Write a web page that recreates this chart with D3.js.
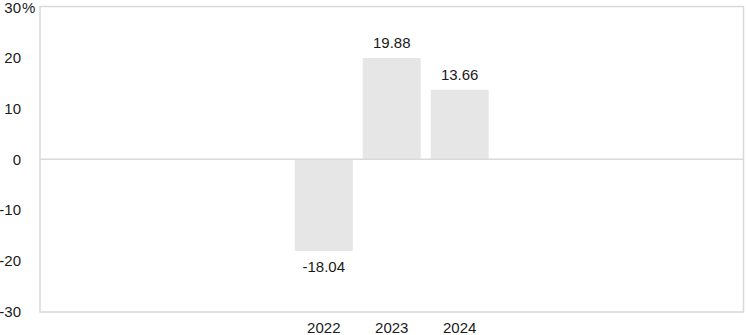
<!DOCTYPE html>
<html>
<head>
<meta charset="utf-8">
<script src="https://cdnjs.cloudflare.com/ajax/libs/d3/7.8.5/d3.min.js"></script>
<style>
	body { margin: 0; background: #fff; }
	svg text { font-family: "Liberation Sans", Arial, sans-serif; font-size: 15px; fill: #1a1a1a; }
</style>
</head>
<body>
<svg width="746" height="335"></svg>
<script>
var years = ["2022", "2023", "2024"];
var returns = [-18.04, 19.88, 13.66];
var yTicks = [-30, -20, -10, 0, 10, 20, 30];

// plot box (note: "top" is taken by window.top)
var plotLeft = 40, plotRight = 743.5, plotTop = 6.5, plotBottom = 312;

var svg = d3.select("svg");

var x = d3.scaleBand()
	.domain(years)
	.range([plotLeft, plotRight])
	.paddingInner(0.147)
	.paddingOuter(3.75);

var y = d3.scaleLinear()
	.domain([-30, 30])
	.range([plotBottom, plotTop]);

// frame
svg.append("rect")
	.attr("x", plotLeft)
	.attr("y", plotTop)
	.attr("width", plotRight - plotLeft)
	.attr("height", plotBottom - plotTop)
	.attr("fill", "none")
	.attr("stroke", "#d9d9d9")
	.attr("stroke-width", 1.5);

// bars
svg.selectAll(".bar")
	.data(years)
	.enter()
	.append("rect")
	.attr("class", "bar")
	.attr("x", function (d) { return x(d); })
	.attr("width", x.bandwidth())
	.attr("y", function (d, i) { return y(Math.max(0, returns[i])); })
	.attr("height", function (d, i) { return Math.abs(y(returns[i]) - y(0)); })
	.attr("fill", "#e6e6e6");

// zero line
svg.append("line")
	.attr("x1", plotLeft)
	.attr("x2", plotRight)
	.attr("y1", y(0))
	.attr("y2", y(0))
	.attr("stroke", "#d9d9d9")
	.attr("stroke-width", 1.5);

// y tick labels (top one nudged down so it stays inside the picture)
function tickY(d) { return d === 30 ? y(d) + 1.5 : y(d); }

svg.selectAll(".ytick")
	.data(yTicks)
	.enter()
	.append("text")
	.attr("class", "ytick")
	.attr("x", 21)
	.attr("y", tickY)
	.attr("dy", "0.35em")
	.attr("text-anchor", "end")
	.text(function (d) { return d; });

svg.append("text")
	.attr("x", 22)
	.attr("y", tickY(30))
	.attr("dy", "0.35em")
	.text("%");

// value labels
svg.selectAll(".val")
	.data(years)
	.enter()
	.append("text")
	.attr("class", "val")
	.attr("x", function (d) { return x(d) + x.bandwidth() / 2; })
	.attr("y", function (d, i) { return returns[i] >= 0 ? y(returns[i]) - 10 : y(returns[i]) + 21; })
	.attr("text-anchor", "middle")
	.text(function (d, i) { return returns[i].toFixed(2); });

// x labels
svg.selectAll(".xlab")
	.data(years)
	.enter()
	.append("text")
	.attr("class", "xlab")
	.attr("x", function (d) { return x(d) + x.bandwidth() / 2; })
	.attr("y", 333)
	.attr("text-anchor", "middle")
	.text(function (d) { return d; });
</script>
</body>
</html>
